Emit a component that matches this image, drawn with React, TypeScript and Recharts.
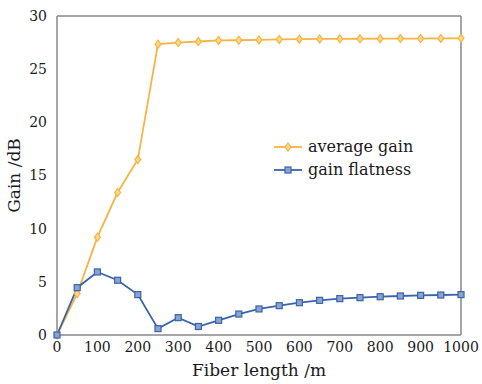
import React from "react";
import { LineChart, Line, XAxis, YAxis, ReferenceLine } from "recharts";

const lengths = [0, 50, 100, 150, 200, 250, 300, 350, 400, 450, 500, 550, 600, 650, 700, 750, 800, 850, 900, 950, 1000];
const averageGain = [0, 3.9, 9.2, 13.4, 16.5, 27.35, 27.5, 27.6, 27.7, 27.72, 27.75, 27.8, 27.82, 27.84, 27.85, 27.86, 27.87, 27.88, 27.88, 27.89, 27.9];
const gainFlatness = [0, 4.45, 5.93, 5.15, 3.8, 0.6, 1.63, 0.8, 1.38, 1.97, 2.45, 2.76, 3.04, 3.26, 3.42, 3.51, 3.6, 3.67, 3.73, 3.76, 3.8];
const xTicks = [0, 100, 200, 300, 400, 500, 600, 700, 800, 900, 1000];
const yTicks = [0, 5, 10, 15, 20, 25, 30];

const ORANGE = "#f5b443";
const BLUE = "#3a63a8";
const FONT = "'DejaVu Serif', serif";

const data = lengths.map((x, i) => ({ x, avg: averageGain[i], flat: gainFlatness[i] }));

const Diamond = (props: any) => {
  const { cx, cy } = props;
  if (cx == null || cy == null) return null;
  return <path d={`M${cx},${cy - 4}L${cx + 3},${cy}L${cx},${cy + 4}L${cx - 3},${cy}Z`} fill="#fbd98a" stroke={ORANGE} strokeWidth={1.2} />;
};

const Square = (props: any) => {
  const { cx, cy } = props;
  if (cx == null || cy == null) return null;
  return <rect x={cx - 3} y={cy - 3} width={6} height={6} fill="#8aa3d0" stroke={BLUE} strokeWidth={1.2} />;
};

function LegendBox() {
  const items = [
    { label: "average gain", color: ORANGE, marker: "d" },
    { label: "gain flatness", color: BLUE, marker: "s" },
  ];
  return (
    <svg width={160} height={50} style={{ position: "absolute", left: 272, top: 135 }}>
      {items.map((it, i) => {
        const y = 12 + i * 23;
        return (
          <g key={it.label}>
            <line x1={2} x2={30} y1={y} y2={y} stroke={it.color} strokeWidth={1.8} />
            {it.marker === "d" ? <Diamond cx={16} cy={y} /> : <Square cx={16} cy={y} />}
            <text x={36} y={y + 5} fontFamily={FONT} fontSize={16} fill="#1a1a1a">{it.label}</text>
          </g>
        );
      })}
    </svg>
  );
}

export default function App() {
  const tick = { fontFamily: FONT, fontSize: 14, fill: "#1a1a1a" };
  return (
    <div style={{ position: "absolute", left: 0, top: 0, width: 482, height: 384, background: "#fff" }}>
      <LineChart width={482} height={384} data={data} margin={{ top: 16, right: 21, left: 0, bottom: 0 }}>
        <XAxis
          dataKey="x"
          type="number"
          domain={[0, 1000]}
          ticks={xTicks}
          tickLine={false}
          axisLine={{ stroke: "#888", strokeWidth: 1.5 }}
          tick={tick}
          tickMargin={1}
          height={49}
          interval={0}
          label={{ value: "Fiber length /m", position: "insideBottom", offset: 8, style: { fontFamily: FONT, fontSize: 17, fill: "#1a1a1a" } }}
        />
        <YAxis
          type="number"
          domain={[0, 30]}
          ticks={yTicks}
          tickLine={false}
          axisLine={{ stroke: "#888", strokeWidth: 1.5 }}
          tick={tick}
          tickMargin={4}
          width={57}
          interval={0}
          label={{ value: "Gain /dB", angle: -90, position: "insideLeft", offset: 14, style: { fontFamily: FONT, fontSize: 17, fill: "#1a1a1a", textAnchor: "middle" } }}
        />
        <ReferenceLine y={30} stroke="#888" strokeWidth={1.5} />
        <ReferenceLine x={1000} stroke="#888" strokeWidth={1.5} />
        <Line dataKey="avg" stroke={ORANGE} strokeWidth={1.8} dot={<Diamond />} isAnimationActive={false} />
        <Line dataKey="flat" stroke={BLUE} strokeWidth={1.8} dot={<Square />} isAnimationActive={false} />
      </LineChart>
      <LegendBox />
    </div>
  );
}
